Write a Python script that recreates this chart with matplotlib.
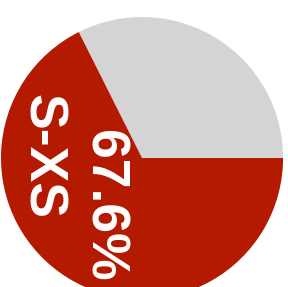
import matplotlib
matplotlib.use("Agg")
import matplotlib.pyplot as plt

labels = ["other", "S-XS"]
values = [32.4, 67.6]
colors = ["#d4d4d4", "#b31a00"]

fig = plt.figure(figsize=(2.88, 2.87), dpi=100)
ax = fig.add_axes([0, 0, 1, 1])
ax.pie(values, colors=colors, startangle=0, counterclock=True,
       radius=1, wedgeprops=dict(linewidth=0))
ax.set_xlim(-1.007, 1.035)
ax.set_ylim(-0.915, 1.121)
ax.set_aspect("auto")
ax.axis("off")

# label and percentage for the big slice, written top to bottom
txt = dict(rotation=-90, rotation_mode="anchor", ha="center", va="baseline",
           color="white", fontsize=38.5, fontweight="bold", family="Liberation Sans")
ax.text(-0.809, 0.011, labels[1], **txt)
ax.text(-0.369, -0.337, f"{values[1]}%", **txt)

fig.savefig("out.png", dpi=100)
